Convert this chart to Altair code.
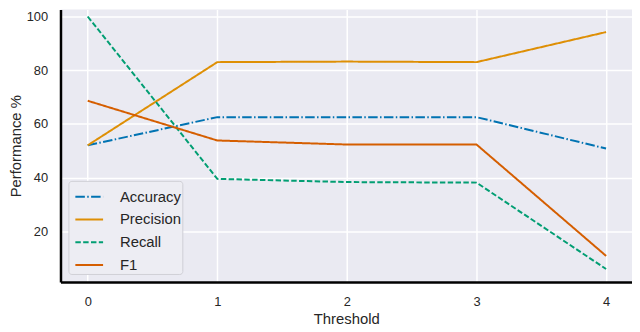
import altair as alt
import pandas as pd

thresholds = [0, 1, 2, 3, 4]
series_names = ["Accuracy", "Precision", "Recall", "F1"]
accuracy = [52.0, 62.5, 62.5, 62.5, 50.8]
precision = [52.0, 83.0, 83.2, 83.0, 94.2]
recall = [100.0, 39.5, 38.3, 38.1, 5.9]
f1 = [68.6, 53.8, 52.3, 52.3, 10.8]

colors = ["#0173B2", "#DE8F05", "#029E73", "#D55E00"]
dashes = [[9.6, 2.4, 1.5, 2.4], [1, 0], [5.5, 2.4], [1, 0]]

rows = []
for name, vals in zip(series_names, [accuracy, precision, recall, f1]):
    for t, v in zip(thresholds, vals):
        rows.append({"Threshold": t, "value": v, "metric": name})
df = pd.DataFrame(rows)

FONT = "Liberation Sans"
TXT = "#262626"

chart = alt.Chart(df).mark_line(strokeWidth=2, clip=True).encode(
    x=alt.X("Threshold:Q",
            scale=alt.Scale(domain=[-0.21, 4.2], nice=False, zero=False),
            axis=alt.Axis(values=thresholds, format="d", title="Threshold",
                          labelPadding=14, titlePadding=3)),
    y=alt.Y("value:Q",
            scale=alt.Scale(domain=[1.1, 102.6], nice=False, zero=False),
            axis=alt.Axis(values=[20, 40, 60, 80, 100], title="Performance %",
                          labelPadding=13, titlePadding=3)),
    color=alt.Color("metric:N",
                    scale=alt.Scale(domain=series_names, range=colors),
                    legend=alt.Legend(title=None, orient="none", legendX=8, legendY=173,
                                      symbolType="stroke", symbolSize=784,
                                      symbolStrokeWidth=2, symbolOffset=5,
                                      labelFontSize=15,
                                      labelFont=FONT, labelColor=TXT,
                                      fillColor="#EDEDF3", strokeColor="#CFCFD6",
                                      cornerRadius=3, padding=1, rowPadding=-6.5,
                                      labelOffset=16)),
    strokeDash=alt.StrokeDash("metric:N",
                              scale=alt.Scale(domain=series_names, range=dashes),
                              legend=None),
    order=alt.Order("Threshold:Q"),
).properties(
    width=577, height=275,
    autosize=alt.AutoSizeParams(type="none"),
    padding={"left": 53, "top": 0, "right": 0, "bottom": 46},
).configure_view(
    fill="#EAEAF2", stroke=None
).configure_axis(
    domainColor="black", domainWidth=2.5, ticks=False,
    gridColor="white", gridWidth=1.5,
    labelFont=FONT, labelFontSize=13, labelColor=TXT,
    titleFont=FONT, titleFontSize=15, titleFontWeight="normal", titleColor=TXT,
)

chart.save("out.html", embed_options={"renderer": "svg", "actions": False})
